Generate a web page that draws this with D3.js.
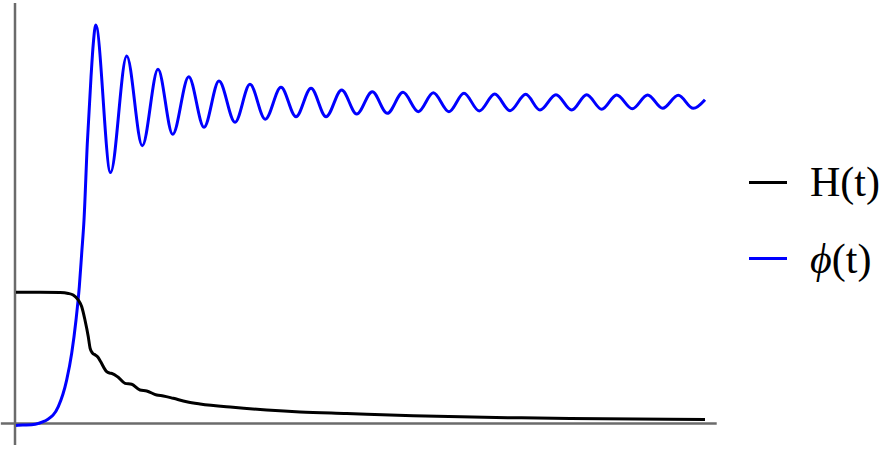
<!DOCTYPE html>
<html>
<head>
<meta charset="utf-8">
<script src="https://d3js.org/d3.v7.min.js"></script>
<style>
  body { margin: 0; background: #fff; }
  svg { display: block; }
  .legend text { font-family: "Liberation Serif", "Times New Roman", serif; font-size: 42px; fill: #000; }
</style>
</head>
<body>
<div id="chart"></div>
<script>
// H(t): black curve, [t, value]
var hData = [
  [0, 1.0], [3.5, 1.0], [6.4, 0.998], [7.6, 0.991], [8.3, 0.979], [9.04, 0.941],
  [9.54, 0.89], [10.01, 0.789], [10.49, 0.662], [10.75, 0.575], [11.1, 0.537],
  [11.5, 0.522], [11.9, 0.505], [12.3, 0.47], [13.16, 0.395], [13.6, 0.384], [13.93, 0.381],
  [14.8, 0.354], [15.82, 0.306], [16.79, 0.299], [18.0, 0.255], [18.97, 0.248],
  [20.42, 0.217], [21.38, 0.21], [22.83, 0.192], [24.77, 0.166], [26.71, 0.149],
  [31.49, 0.123], [36.39, 0.103], [41.22, 0.088], [48.0, 0.076], [57.66, 0.059],
  [72.13, 0.044], [80.41, 0.038], [100, 0.03]
]

// phi(t): blue curve, rise then peaks / troughs
var phiData = [
  [0, -0.015], [1.0, -0.012], [2.8, -0.005], [3.96, 0.014], [4.46, 0.027],
  [6.14, 0.128], [7.36, 0.332], [8.09, 0.537], [8.71, 0.789], [9.19, 1.043],
  [9.54, 1.3], [9.87, 1.551], [10.35, 2.136], [10.89, 2.643], [11.22, 2.898],
  [11.57, 3.037],
  [13.72, 1.913], [16.07, 2.801], [18.33, 2.117], [20.61, 2.7], [22.74, 2.204],
  [25.07, 2.643], [27.29, 2.258], [29.46, 2.61], [31.79, 2.296], [33.96, 2.585],
  [36.18, 2.319], [38.46, 2.563], [40.64, 2.338], [42.82, 2.555], [45.0, 2.338],
  [47.27, 2.542], [49.45, 2.359], [51.71, 2.529], [53.89, 2.364], [56.17, 2.524],
  [58.39, 2.377], [60.57, 2.521], [62.84, 2.377], [65.02, 2.517], [67.24, 2.382],
  [69.48, 2.511], [71.7, 2.384], [73.98, 2.509], [76.05, 2.389], [78.37, 2.506],
  [80.65, 2.389], [82.83, 2.506], [85.01, 2.395], [87.18, 2.504], [89.45, 2.399],
  [91.68, 2.504], [93.86, 2.402], [96.12, 2.502], [98.3, 2.402], [100, 2.468]
]

var seriesNames = ["H(t)", "\u03D5(t)"]
var seriesColors = ["#000000", "#0000ff"]

// axis extents in data units
var xAxisExtent = [-2.2, 101.7]
var yAxisExtent = [-0.164, 3.205]
var yAxisAt = -0.145

var width = 892, height = 450

var svg = d3.select("#chart").append("svg")
    .attr("width", width)
    .attr("height", height)

var x = d3.scaleLinear().domain([0, 100]).range([16, 705])
var y = d3.scaleLinear().domain([0, 1]).range([423.5, 292.3])

// axes (no ticks)
svg.append("line")
    .attr("x1", x(xAxisExtent[0])).attr("x2", x(xAxisExtent[1]))
    .attr("y1", y(0)).attr("y2", y(0))
    .attr("stroke", "#6b6b6b").attr("stroke-width", 2.5)

svg.append("line")
    .attr("x1", x(yAxisAt)).attr("x2", x(yAxisAt))
    .attr("y1", y(yAxisExtent[0])).attr("y2", y(yAxisExtent[1]))
    .attr("stroke", "#6b6b6b").attr("stroke-width", 2.5)

var line = d3.line()
    .x(d => x(d[0]))
    .y(d => y(d[1]))
    .curve(d3.curveMonotoneX)

svg.append("path")
    .datum(phiData)
    .attr("d", line)
    .attr("fill", "none")
    .attr("stroke", seriesColors[1])
    .attr("stroke-width", 3)
    .attr("stroke-linejoin", "round")

svg.append("path")
    .datum(hData)
    .attr("d", line)
    .attr("fill", "none")
    .attr("stroke", seriesColors[0])
    .attr("stroke-width", 3)
    .attr("stroke-linejoin", "round")

// legend
var legend = svg.append("g").attr("class", "legend")
var rows = [{y: 182.5, base: 196}, {y: 258.5, base: 272.5}]

seriesNames.forEach(function(name, i) {
  legend.append("line")
      .attr("x1", 749).attr("x2", 787)
      .attr("y1", rows[i].y).attr("y2", rows[i].y)
      .attr("stroke", seriesColors[i])
      .attr("stroke-width", 3)
  var t = legend.append("text")
      .attr("x", 810)
      .attr("y", rows[i].base)
  if (i == 1) {
    t.append("tspan").attr("font-style", "italic").text("\u03D5")
    t.append("tspan").text("(t)")
  } else {
    t.text(name)
  }
})
</script>
</body>
</html>
